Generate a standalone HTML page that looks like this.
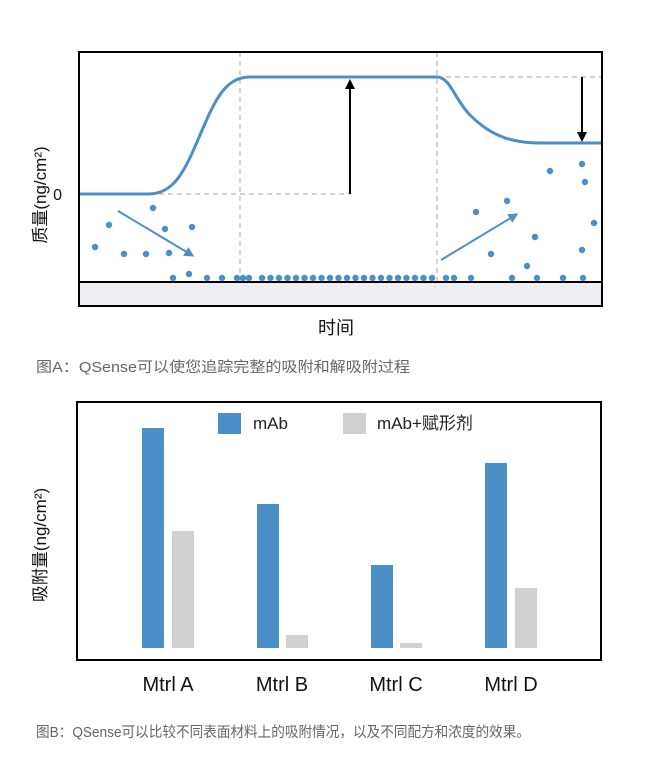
<!DOCTYPE html>
<html><head><meta charset="utf-8"><style>
html,body{margin:0;padding:0;background:#fff;}
svg{display:block;font-family:"Liberation Sans","Noto Sans CJK SC",sans-serif;}
</style></head><body>
<svg width="650" height="777" viewBox="0 0 650 777" xmlns="http://www.w3.org/2000/svg">
<defs>
<marker id="ak" markerWidth="10" markerHeight="10" refX="5" refY="5" orient="auto" markerUnits="userSpaceOnUse"><path d="M0,0 L10,5 L0,10 z" fill="#000"/></marker>
<marker id="ab" markerWidth="10" markerHeight="10" refX="5" refY="5" orient="auto" markerUnits="userSpaceOnUse"><path d="M0,0 L10,5 L0,10 z" fill="#4a8fc8"/></marker>
</defs>
<rect x="79" y="282" width="523" height="24" fill="#eceef1"/>
<g stroke="#aaa" stroke-width="1" stroke-dasharray="5,4" fill="none">
<line x1="240" y1="52" x2="240" y2="282"/>
<line x1="437" y1="52" x2="437" y2="282"/>
<line x1="150" y1="194" x2="350" y2="194"/>
<line x1="437" y1="77" x2="602" y2="77"/>
</g>
<path d="M79,194 L148,194 C175,194 185,170 200,135 C215,100 225,77 250,77 L437,77 C450,77 455,100 470,115 C490,135 510,143 540,143 L602,143" fill="none" stroke="#4a8fc8" stroke-width="3"/>
<line x1="350" y1="194" x2="350" y2="84" stroke="#000" stroke-width="2" marker-end="url(#ak)"/>
<line x1="582" y1="77" x2="582" y2="137" stroke="#000" stroke-width="2" marker-end="url(#ak)"/>
<line x1="118" y1="211" x2="190" y2="254" stroke="#4a8fc8" stroke-width="2" marker-end="url(#ab)"/>
<line x1="441" y1="260" x2="514" y2="216" stroke="#4a8fc8" stroke-width="2" marker-end="url(#ab)"/>
<g fill="#4a8fc8">
<circle cx="95" cy="247" r="3.2"/><circle cx="109" cy="225" r="3.2"/><circle cx="124" cy="254" r="3.2"/><circle cx="146" cy="254" r="3.2"/><circle cx="153" cy="208" r="3.2"/><circle cx="165" cy="229" r="3.2"/><circle cx="169" cy="253" r="3.2"/><circle cx="192" cy="227" r="3.2"/><circle cx="189" cy="274" r="3.2"/>
<circle cx="476" cy="212" r="3.2"/><circle cx="507" cy="201" r="3.2"/><circle cx="491" cy="254" r="3.2"/><circle cx="535" cy="237" r="3.2"/><circle cx="527" cy="266" r="3.2"/><circle cx="550" cy="171" r="3.2"/><circle cx="582" cy="164" r="3.2"/><circle cx="585" cy="182" r="3.2"/><circle cx="594" cy="223" r="3.2"/><circle cx="582" cy="250" r="3.2"/>
<circle cx="173" cy="278" r="3.2"/><circle cx="207" cy="278" r="3.2"/><circle cx="222" cy="278" r="3.2"/><circle cx="237" cy="278" r="3.2"/><circle cx="243" cy="278" r="3.2"/><circle cx="249" cy="278" r="3.2"/>
<circle cx="262" cy="278" r="3.2"/><circle cx="270.5" cy="278" r="3.2"/><circle cx="279" cy="278" r="3.2"/><circle cx="287.5" cy="278" r="3.2"/><circle cx="296" cy="278" r="3.2"/><circle cx="304.5" cy="278" r="3.2"/><circle cx="313" cy="278" r="3.2"/><circle cx="321.5" cy="278" r="3.2"/><circle cx="330" cy="278" r="3.2"/><circle cx="338.5" cy="278" r="3.2"/><circle cx="347" cy="278" r="3.2"/><circle cx="355.5" cy="278" r="3.2"/><circle cx="364" cy="278" r="3.2"/><circle cx="372.5" cy="278" r="3.2"/><circle cx="381" cy="278" r="3.2"/><circle cx="389.5" cy="278" r="3.2"/><circle cx="398" cy="278" r="3.2"/><circle cx="406.5" cy="278" r="3.2"/><circle cx="415" cy="278" r="3.2"/><circle cx="423.5" cy="278" r="3.2"/><circle cx="432" cy="278" r="3.2"/>
<circle cx="446" cy="278" r="3.2"/><circle cx="454" cy="278" r="3.2"/><circle cx="471" cy="278" r="3.2"/><circle cx="512" cy="278" r="3.2"/><circle cx="537" cy="278" r="3.2"/><circle cx="563" cy="278" r="3.2"/><circle cx="583" cy="278" r="3.2"/>
</g>
<line x1="79" y1="282" x2="602" y2="282" stroke="#000" stroke-width="2"/>
<rect x="79" y="52" width="523" height="254" fill="none" stroke="#000" stroke-width="2"/>
<text x="62" y="200" font-size="16" text-anchor="end" fill="#111">0</text>
<text transform="translate(46,195) rotate(-90)" font-size="17" text-anchor="middle" fill="#111">质量(ng/cm²)</text>
<text x="336" y="334" font-size="18" text-anchor="middle" fill="#111">时间</text>
<text x="36" y="372" font-size="14.5" fill="#666" textLength="374" lengthAdjust="spacingAndGlyphs">图A：QSense可以使您追踪完整的吸附和解吸附过程</text>
<g fill="#4a8fc8">
<rect x="142" y="428" width="22" height="220"/><rect x="257" y="504" width="22" height="144"/><rect x="371" y="565" width="22" height="83"/><rect x="485" y="463" width="22" height="185"/>
<rect x="218" y="413" width="23" height="21"/>
</g>
<g fill="#d0d0d0">
<rect x="172" y="531" width="22" height="117"/><rect x="286" y="635" width="22" height="13"/><rect x="400" y="643" width="22" height="5"/><rect x="515" y="588" width="22" height="60"/>
<rect x="343" y="413" width="23" height="21"/>
</g>
<text x="253" y="429" font-size="17" fill="#222">mAb</text>
<text x="377" y="429" font-size="17" fill="#222">mAb+赋形剂</text>
<rect x="77" y="402" width="524" height="258" fill="none" stroke="#000" stroke-width="2"/>
<text transform="translate(46,545) rotate(-90)" font-size="17" text-anchor="middle" fill="#111">吸附量(ng/cm²)</text>
<g font-size="20" text-anchor="middle" fill="#111">
<text x="168" y="691">Mtrl A</text><text x="282" y="691">Mtrl B</text><text x="396" y="691">Mtrl C</text><text x="511" y="691">Mtrl D</text>
</g>
<text x="36" y="737" font-size="14.5" fill="#666" textLength="494" lengthAdjust="spacingAndGlyphs">图B：QSense可以比较不同表面材料上的吸附情况，以及不同配方和浓度的效果。</text>
</svg>
</body></html>
